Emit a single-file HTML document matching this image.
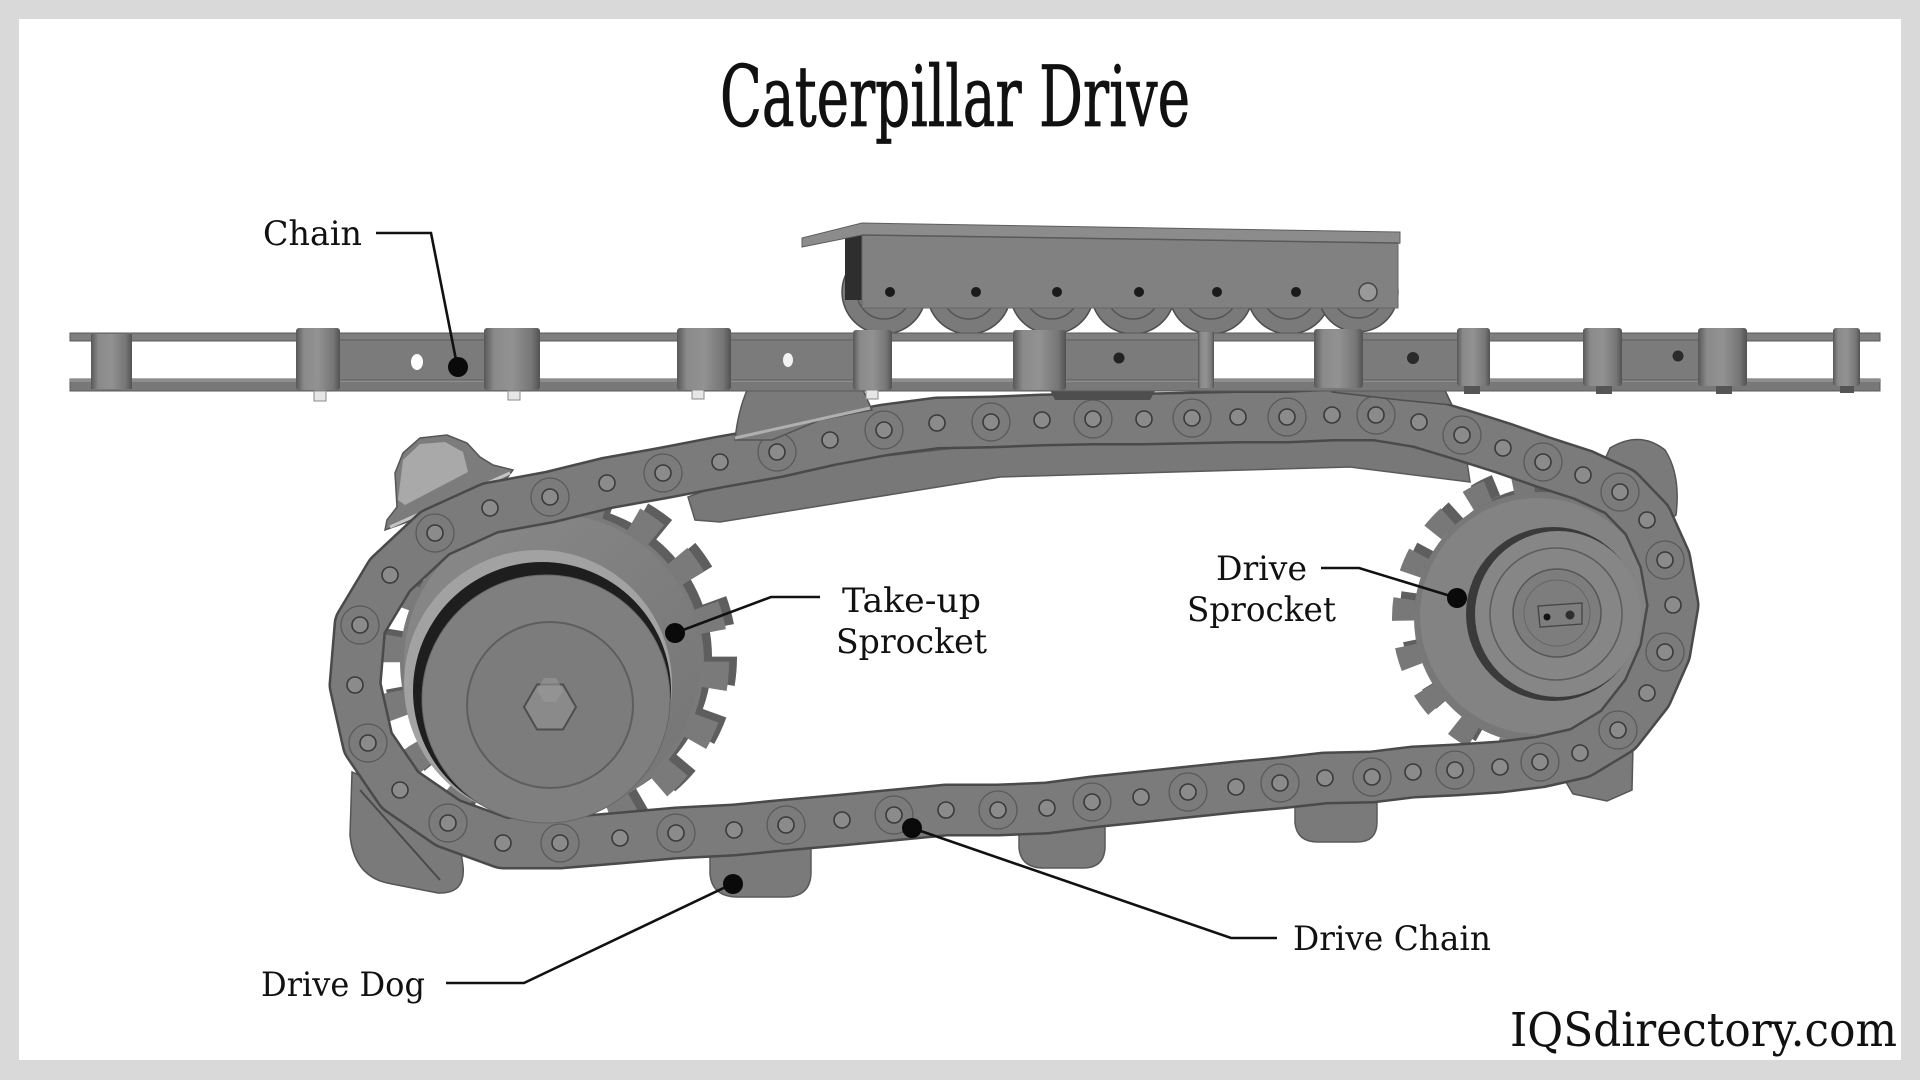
<!DOCTYPE html>
<html><head><meta charset="utf-8"><style>
html,body{margin:0;padding:0;background:#d9d9d9;}
svg{display:block;}
</style></head><body>
<svg width="1920" height="1080" viewBox="0 0 1920 1080" xmlns="http://www.w3.org/2000/svg">
<defs>
<linearGradient id="cyl" x1="0" y1="0" x2="1" y2="0">
<stop offset="0" stop-color="#585858"/><stop offset="0.18" stop-color="#8a8a8a"/><stop offset="0.5" stop-color="#929292"/><stop offset="0.85" stop-color="#767676"/><stop offset="1" stop-color="#525252"/>
</linearGradient>
<linearGradient id="face" x1="0" y1="0" x2="1" y2="1">
<stop offset="0" stop-color="#8a8a8a"/><stop offset="1" stop-color="#747474"/>
</linearGradient>
</defs>
<rect x="0" y="0" width="1920" height="1080" fill="#d9d9d9"/>
<rect x="19" y="19" width="1882" height="1041" fill="#ffffff"/>

<!-- guide rail under upper run -->
<polygon points="688,497 760,470 1000,443 1350,436 1465,448 1470,482 1350,467 1000,477 720,522 695,520" fill="#787878" stroke="#5a5a5a" stroke-width="1.5"/>

<!-- drive dogs / lobes (behind chain) -->
<path d="M385,530 L387,520 L397,507 L395,473 L403,453 L420,438 L447,435 L467,443 L480,457 L493,465 L513,470 L507,478 L477,490 L407,522 Z" fill="#7c7c7c" stroke="#555" stroke-width="1.5"/>
<polygon points="398,500 403,460 420,444 445,442 463,452 468,472 405,505" fill="#a9a9a9"/>
<line x1="390" y1="527" x2="510" y2="473" stroke="#c4c4c4" stroke-width="3"/>
<path d="M352,772 L350,835 Q354,878 392,884 L438,893 Q466,894 463,866 L456,815 Z" fill="#7a7a7a" stroke="#555" stroke-width="1.5"/>
<line x1="360" y1="790" x2="440" y2="880" stroke="#4a4a4a" stroke-width="2"/>
<path d="M710,840 L710,874 Q712,897 738,897 L785,897 Q811,897 811,872 L811,836 Z" fill="#7a7a7a" stroke="#5a5a5a" stroke-width="1.5"/>
<path d="M1019,818 L1019,848 Q1021,868 1044,868 L1083,868 Q1105,868 1105,846 L1105,812 Z" fill="#7a7a7a" stroke="#5a5a5a" stroke-width="1.5"/>
<path d="M1295,795 L1295,823 Q1297,842 1318,842 L1357,842 Q1377,842 1377,822 L1377,790 Z" fill="#7a7a7a" stroke="#5a5a5a" stroke-width="1.5"/>
<path d="M1598,475 L1610,448 Q1640,430 1665,450 Q1681,475 1676,515 L1650,532 Z" fill="#7a7a7a" stroke="#555" stroke-width="1.5"/>
<path d="M1557,767 L1633,745 L1632,790 L1607,801 L1573,794 Z" fill="#7a7a7a" stroke="#555" stroke-width="1.5"/>

<!-- take-up sprocket gear -->
<g>
<circle cx="560" cy="657" r="152" fill="#5e5e5e"/>
<circle cx="560" cy="657" r="164" fill="none" stroke="#5e5e5e" stroke-width="26" stroke-dasharray="27 30.2"/>
<circle cx="552" cy="662" r="152" fill="#7a7a7a"/>
<circle cx="552" cy="662" r="164" fill="none" stroke="#7a7a7a" stroke-width="26" stroke-dasharray="27 30.2"/>
<circle cx="552" cy="662" r="148" fill="url(#face)"/>
</g>

<!-- drive sprocket gear -->
<g>
<circle cx="1548" cy="612" r="126" fill="#5e5e5e"/>
<circle cx="1548" cy="612" r="137" fill="none" stroke="#5e5e5e" stroke-width="22" stroke-dasharray="22 25.5"/>
<circle cx="1540" cy="618" r="126" fill="#787878"/>
<circle cx="1540" cy="618" r="137" fill="none" stroke="#787878" stroke-width="22" stroke-dasharray="22 25.5"/>
<circle cx="1538" cy="616" r="118" fill="#838383"/>
</g>

<!-- loop drive chain -->
<path d="M435,533 L490,508 L550,497 L607,483 L663,473 L720,462 L777,452 L830,440 L884,430 L937,423 L991,422 L1042,420 L1093,419 L1144,419 L1192,418 L1238,417 L1287,417 L1332,415 L1376,415 L1419,422 L1462,435 L1503,448 L1543,462 L1583,475 L1620,492 L1647,520 L1665,560 L1673,605 L1665,652 L1647,693 L1618,730 L1580,753 L1540,762 L1500,767 L1455,770 L1413,772 L1372,777 L1325,778 L1280,783 L1236,787 L1188,792 L1141,797 L1092,802 L1047,808 L998,810 L946,810 L894,815 L842,820 L786,825 L734,830 L676,833 L620,838 L560,843 L503,843 L448,823 L400,790 L368,743 L355,685 L360,625 L390,575 Z" fill="none" stroke="#4a4a4a" stroke-width="53" stroke-linejoin="round"/>
<path d="M435,533 L490,508 L550,497 L607,483 L663,473 L720,462 L777,452 L830,440 L884,430 L937,423 L991,422 L1042,420 L1093,419 L1144,419 L1192,418 L1238,417 L1287,417 L1332,415 L1376,415 L1419,422 L1462,435 L1503,448 L1543,462 L1583,475 L1620,492 L1647,520 L1665,560 L1673,605 L1665,652 L1647,693 L1618,730 L1580,753 L1540,762 L1500,767 L1455,770 L1413,772 L1372,777 L1325,778 L1280,783 L1236,787 L1188,792 L1141,797 L1092,802 L1047,808 L998,810 L946,810 L894,815 L842,820 L786,825 L734,830 L676,833 L620,838 L560,843 L503,843 L448,823 L400,790 L368,743 L355,685 L360,625 L390,575 Z" fill="none" stroke="#7b7b7b" stroke-width="48" stroke-linejoin="round"/>
<g fill="none" stroke="#5a5a5a" stroke-width="1.3">
<circle cx="435" cy="533" r="19"/><circle cx="550" cy="497" r="19"/><circle cx="663" cy="473" r="19"/><circle cx="777" cy="452" r="19"/><circle cx="884" cy="430" r="19"/><circle cx="991" cy="422" r="19"/><circle cx="1093" cy="419" r="19"/><circle cx="1192" cy="418" r="19"/><circle cx="1287" cy="417" r="19"/><circle cx="1376" cy="415" r="19"/><circle cx="1462" cy="435" r="19"/><circle cx="1543" cy="462" r="19"/><circle cx="1620" cy="492" r="19"/><circle cx="1665" cy="560" r="19"/><circle cx="1665" cy="652" r="19"/><circle cx="1618" cy="730" r="19"/><circle cx="1540" cy="762" r="19"/><circle cx="1455" cy="770" r="19"/><circle cx="1372" cy="777" r="19"/><circle cx="1280" cy="783" r="19"/><circle cx="1188" cy="792" r="19"/><circle cx="1092" cy="802" r="19"/><circle cx="998" cy="810" r="19"/><circle cx="894" cy="815" r="19"/><circle cx="786" cy="825" r="19"/><circle cx="676" cy="833" r="19"/><circle cx="560" cy="843" r="19"/><circle cx="448" cy="823" r="19"/><circle cx="368" cy="743" r="19"/><circle cx="360" cy="625" r="19"/>
</g>
<g fill="#8b8b8b" stroke="#3a3a3a" stroke-width="1.6">
<circle cx="435" cy="533" r="8"/><circle cx="490" cy="508" r="8"/><circle cx="550" cy="497" r="8"/><circle cx="607" cy="483" r="8"/><circle cx="663" cy="473" r="8"/><circle cx="720" cy="462" r="8"/><circle cx="777" cy="452" r="8"/><circle cx="830" cy="440" r="8"/><circle cx="884" cy="430" r="8"/><circle cx="937" cy="423" r="8"/><circle cx="991" cy="422" r="8"/><circle cx="1042" cy="420" r="8"/><circle cx="1093" cy="419" r="8"/><circle cx="1144" cy="419" r="8"/><circle cx="1192" cy="418" r="8"/><circle cx="1238" cy="417" r="8"/><circle cx="1287" cy="417" r="8"/><circle cx="1332" cy="415" r="8"/><circle cx="1376" cy="415" r="8"/><circle cx="1419" cy="422" r="8"/><circle cx="1462" cy="435" r="8"/><circle cx="1503" cy="448" r="8"/><circle cx="1543" cy="462" r="8"/><circle cx="1583" cy="475" r="8"/><circle cx="1620" cy="492" r="8"/><circle cx="1647" cy="520" r="8"/><circle cx="1665" cy="560" r="8"/><circle cx="1673" cy="605" r="8"/><circle cx="1665" cy="652" r="8"/><circle cx="1647" cy="693" r="8"/><circle cx="1618" cy="730" r="8"/><circle cx="1580" cy="753" r="8"/><circle cx="1540" cy="762" r="8"/><circle cx="1500" cy="767" r="8"/><circle cx="1455" cy="770" r="8"/><circle cx="1413" cy="772" r="8"/><circle cx="1372" cy="777" r="8"/><circle cx="1325" cy="778" r="8"/><circle cx="1280" cy="783" r="8"/><circle cx="1236" cy="787" r="8"/><circle cx="1188" cy="792" r="8"/><circle cx="1141" cy="797" r="8"/><circle cx="1092" cy="802" r="8"/><circle cx="1047" cy="808" r="8"/><circle cx="998" cy="810" r="8"/><circle cx="946" cy="810" r="8"/><circle cx="894" cy="815" r="8"/><circle cx="842" cy="820" r="8"/><circle cx="786" cy="825" r="8"/><circle cx="734" cy="830" r="8"/><circle cx="676" cy="833" r="8"/><circle cx="620" cy="838" r="8"/><circle cx="560" cy="843" r="8"/><circle cx="503" cy="843" r="8"/><circle cx="448" cy="823" r="8"/><circle cx="400" cy="790" r="8"/><circle cx="368" cy="743" r="8"/><circle cx="355" cy="685" r="8"/><circle cx="360" cy="625" r="8"/><circle cx="390" cy="575" r="8"/>
</g>

<!-- take-up hub -->
<circle cx="538" cy="684" r="134" fill="#a2a2a2"/>
<circle cx="542" cy="691" r="129" fill="#1e1e1e"/>
<circle cx="546" cy="699" r="124" fill="#7f7f7f" stroke="#666" stroke-width="1"/>
<circle cx="550" cy="705" r="83" fill="#7c7c7c" stroke="#5e5e5e" stroke-width="2"/>
<polygon points="576,707 563,729.5 537,729.5 524,707 537,684.5 563,684.5" fill="#8a8a8a" stroke="#4e4e4e" stroke-width="2"/>
<polygon points="563,690 556,702 544,702 537,690 544,678 556,678" fill="#9a9a9a" opacity="0.6"/>

<!-- drive hub -->
<circle cx="1553" cy="614" r="87" fill="#3a3a3a"/>
<circle cx="1558" cy="614" r="83" fill="#868686"/>
<circle cx="1556" cy="614" r="66" fill="none" stroke="#5c5c5c" stroke-width="1.5"/>
<circle cx="1557" cy="613" r="44" fill="#7d7d7d" stroke="#555" stroke-width="1.5"/>
<circle cx="1557" cy="613" r="33" fill="none" stroke="#666" stroke-width="1"/>
<polygon points="1538,606 1582,603 1582,624 1540,627" fill="none" stroke="#444" stroke-width="1.3"/>
<circle cx="1547" cy="617" r="3.5" fill="#111"/>
<circle cx="1570" cy="615" r="4.5" fill="#2e2e2e"/>

<!-- hangers between top chain and loop -->
<path d="M748,388 L862,388 L872,410 L820,420 L772,440 L735,440 Q738,410 748,388 Z" fill="#7a7a7a" stroke="#555" stroke-width="1.5"/>
<line x1="735" y1="438" x2="870" y2="408" stroke="#b0b0b0" stroke-width="3"/>
<polygon points="1047,384 1159,384 1150,400 1055,400" fill="#4e4e4e"/>
<polygon points="1322,380 1440,380 1452,405 1400,400 1332,392" fill="#747474" stroke="#4e4e4e" stroke-width="1.5"/>

<!-- carriage wheels -->
<g fill="#7a7a7a" stroke="#4e4e4e" stroke-width="1.5">
<circle cx="884" cy="292" r="42"/><circle cx="969" cy="292" r="42"/><circle cx="1052" cy="292" r="42"/><circle cx="1133" cy="292" r="42"/><circle cx="1211" cy="292" r="42"/><circle cx="1289" cy="292" r="42"/><circle cx="1358" cy="292" r="40"/>
</g>
<g fill="none" stroke="#555" stroke-width="1.5">
<circle cx="884" cy="292" r="27"/><circle cx="969" cy="292" r="27"/><circle cx="1052" cy="292" r="27"/><circle cx="1133" cy="292" r="27"/><circle cx="1211" cy="292" r="27"/><circle cx="1289" cy="292" r="27"/><circle cx="1358" cy="292" r="26"/>
</g>
<!-- carriage box -->
<polygon points="845,236 864,232 864,300 845,300" fill="#2e2e2e"/>
<polygon points="862,235 1398,243 1398,308 862,308" fill="#818181" stroke="#666" stroke-width="1"/>
<polygon points="802,238 862,223 1400,232 1400,243 862,235 802,247" fill="#8c8c8c" stroke="#5e5e5e" stroke-width="1"/>
<line x1="862" y1="235" x2="1400" y2="243" stroke="#5a5a5a" stroke-width="1.5"/>
<g fill="#1a1a1a">
<circle cx="890" cy="292" r="5"/><circle cx="976" cy="292" r="5"/><circle cx="1057" cy="292" r="5"/><circle cx="1139" cy="292" r="5"/><circle cx="1217" cy="292" r="5"/><circle cx="1296" cy="292" r="5"/>
</g>
<circle cx="1368" cy="292" r="9" fill="#999" stroke="#444" stroke-width="1.5"/>

<!-- top chain -->
<rect x="70" y="333" width="1810" height="8" fill="#7e7e7e" stroke="#5a5a5a" stroke-width="1"/>
<rect x="70" y="379" width="1810" height="12" fill="#787878" stroke="#5a5a5a" stroke-width="1"/>
<rect x="70" y="379" width="1810" height="3" fill="#8e8e8e"/>
<g fill="#7b7b7b" stroke="#5e5e5e" stroke-width="1">
<rect x="336" y="340" width="152" height="40"/>
<rect x="727" y="340" width="130" height="40"/>
<rect x="1062" y="340" width="146" height="40"/>
<rect x="1359" y="340" width="102" height="40"/>
<rect x="1618" y="340" width="84" height="40"/>
</g>
<g fill="url(#cyl)">
<rect x="91" y="334" width="41" height="55"/>
<rect x="296" y="328" width="44" height="62" rx="3"/>
<rect x="484" y="328" width="56" height="62" rx="3"/>
<rect x="677" y="328" width="54" height="62" rx="3"/>
<rect x="853" y="330" width="39" height="60" rx="3"/>
<rect x="1013" y="330" width="53" height="60" rx="3"/>
<rect x="1198" y="332" width="16" height="56"/>
<rect x="1314" y="329" width="49" height="59" rx="3"/>
<rect x="1457" y="328" width="33" height="58" rx="3"/>
<rect x="1583" y="328" width="39" height="58" rx="3"/>
<rect x="1698" y="328" width="49" height="58" rx="3"/>
<rect x="1833" y="328" width="27" height="58" rx="3"/>
</g>
<ellipse cx="417" cy="362" rx="6" ry="8" fill="#ffffff"/>
<ellipse cx="788" cy="360" rx="5" ry="7" fill="#f2f2f2"/>
<circle cx="1119" cy="358" r="5.5" fill="#222"/>
<circle cx="1413" cy="358" r="6" fill="#2a2a2a"/>
<circle cx="1678" cy="356" r="5.5" fill="#2a2a2a"/>
<g fill="#e6e6e6" stroke="#8a8a8a" stroke-width="1">
<rect x="314" y="391" width="12" height="10"/><rect x="508" y="391" width="12" height="9"/><rect x="692" y="390" width="12" height="9"/><rect x="866" y="390" width="12" height="9"/>
</g>
<g fill="#555">
<rect x="1464" y="386" width="16" height="8"/><rect x="1596" y="386" width="16" height="8"/><rect x="1716" y="386" width="16" height="8"/><rect x="1840" y="386" width="14" height="7"/>
</g>

<!-- leaders -->
<g fill="none" stroke="#111" stroke-width="2.6">
<polyline points="376,233 431,233 457,365"/>
<polyline points="820,597 771,597 675,633"/>
<polyline points="1321,568 1359,568 1457,598"/>
<polyline points="1277,938 1231,938 912,828"/>
<polyline points="446,983 524,983 732,884"/>
</g>
<g fill="#0a0a0a">
<circle cx="458" cy="367" r="10"/>
<circle cx="675" cy="633" r="10"/>
<circle cx="1457" cy="598" r="10"/>
<circle cx="912" cy="828" r="10"/>
<circle cx="733" cy="884" r="10"/>
</g>

<!-- text -->
<g font-family="'DejaVu Serif','Liberation Serif',serif" fill="#111">
<text x="720" y="126" font-size="84" font-stretch="condensed" stroke="#111" stroke-width="0.8" textLength="470" lengthAdjust="spacingAndGlyphs">Caterpillar Drive</text>
<text x="263" y="245" font-size="34" textLength="99" lengthAdjust="spacingAndGlyphs">Chain</text>
<text x="842" y="612" font-size="34" textLength="139" lengthAdjust="spacingAndGlyphs">Take-up</text>
<text x="836" y="653" font-size="34" textLength="151" lengthAdjust="spacingAndGlyphs">Sprocket</text>
<text x="1216" y="580" font-size="34" textLength="91" lengthAdjust="spacingAndGlyphs">Drive</text>
<text x="1187" y="621" font-size="34" textLength="149" lengthAdjust="spacingAndGlyphs">Sprocket</text>
<text x="1293" y="950" font-size="34" textLength="198" lengthAdjust="spacingAndGlyphs">Drive Chain</text>
<text x="261" y="996" font-size="34" textLength="164" lengthAdjust="spacingAndGlyphs">Drive Dog</text>
<text x="1510" y="1046" font-size="47" textLength="387" lengthAdjust="spacingAndGlyphs">IQSdirectory.com</text>
</g>
</svg>
</body></html>
